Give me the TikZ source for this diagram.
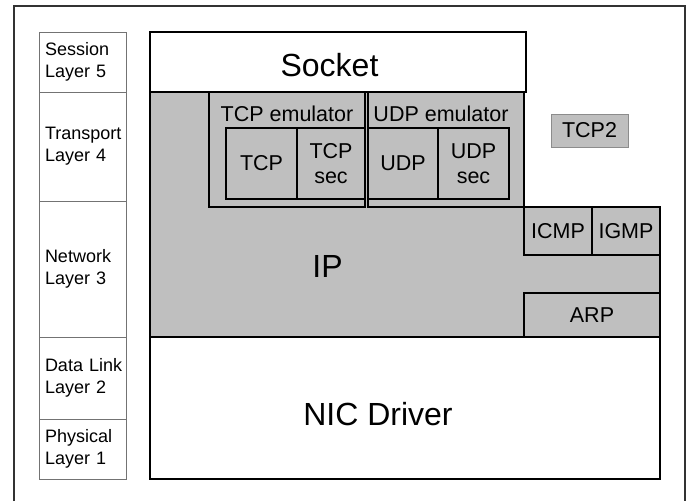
\documentclass[tikz,border=0pt]{standalone}
\usepackage{fontspec}
\setmainfont{Liberation Sans}
\usetikzlibrary{positioning}

\begin{document}
\begin{tikzpicture}[
  x=1pt,y=-1pt,
  layer/.style={
    draw=black!55,
    line width=1pt,
    inner xsep=6pt,
    inner ysep=0pt,
    text width=75pt,
    align=left,
    font=\fontsize{18}{22}\selectfont
  },
  stackbox/.style={
    draw,
    line width=1.8pt,
    fill=white,
    inner sep=0pt
  },
  bigtext/.style={font=\fontsize{32}{36}\selectfont,inner sep=0pt},
  protobox/.style={
    draw,
    line width=1.8pt,
    fill=black!25,
    inner sep=0pt,
    align=center,
    font=\fontsize{21.5}{25}\selectfont
  },
  protolabel/.style={font=\fontsize{21.5}{25}\selectfont,inner sep=0pt}
]
  \useasboundingbox (0,0) rectangle (688,501);
  \draw[line width=1.2pt,black!80] (14,501) -- (14,6) -- (685,6) -- (685,501);

  % OSI layers on the left
  \node[layer,minimum height=60pt] (session) at (82.5,62) {Session\\Layer 5};
  \node[layer,minimum height=109pt] (transport) at (82.5,146.5) {Transport\\Layer 4};
  \node[layer,minimum height=136pt] (network) at (82.5,269) {Network\\Layer 3};
  \node[layer,minimum height=82pt] (datalink) at (82.5,378) {Data~Link\\Layer 2};
  \node[layer,minimum height=60pt] (physical) at (82.5,449) {Physical\\Layer 1};

  % gray IP area
  \draw[line width=1.8pt,fill=black!25]
    (150,92) -- (524,92) -- (524,207) -- (660,207) -- (660,337) -- (150,337) -- cycle;
  \node[bigtext] (ip) at (327.5,266) {IP};

  \node[stackbox,minimum width=376pt,minimum height=60pt] (socket) at (338,62) {};
  \node[bigtext] (sockettext) at (329.5,65) {Socket};
  \node[stackbox,minimum width=510pt,minimum height=142pt] (nic) at (405,408) {};
  \node[bigtext] (nictext) at (378,414) {NIC Driver};

  % emulators
  \node[protobox,minimum width=156pt,minimum height=115pt] (tcpemu) at (287,149.5) {};
  \node[protobox,minimum width=156pt,minimum height=115pt] (udpemu) at (446,149.5) {};
  \node[protolabel] (tcpemulabel) at (287,114) {TCP emulator};
  \node[protolabel] (udpemulabel) at (441,114) {UDP emulator};
  \node[protobox,minimum width=71pt,minimum height=71pt] (tcp) at (261.5,163.5) {TCP};
  \node[protobox,minimum width=68pt,minimum height=71pt] (tcpsec) at (331,163.5) {TCP\\sec};
  \node[protobox,minimum width=70pt,minimum height=71pt] (udp) at (403,163.5) {UDP};
  \node[protobox,minimum width=71pt,minimum height=71pt] (udpsec) at (473.5,163.5) {UDP\\sec};

  \node[protobox,draw=black!45,line width=1pt,minimum width=77pt,minimum height=33pt] (tcptwo) at (589.5,130.5) {TCP2};

  \node[protobox,minimum width=68pt,minimum height=48pt] (icmp) at (558,231) {ICMP};
  \node[protobox,minimum width=68pt,minimum height=48pt] (igmp) at (626,231) {IGMP};
  \node[protobox,minimum width=136pt,minimum height=44pt] (arp) at (592,315) {ARP};
\end{tikzpicture}
\end{document}
